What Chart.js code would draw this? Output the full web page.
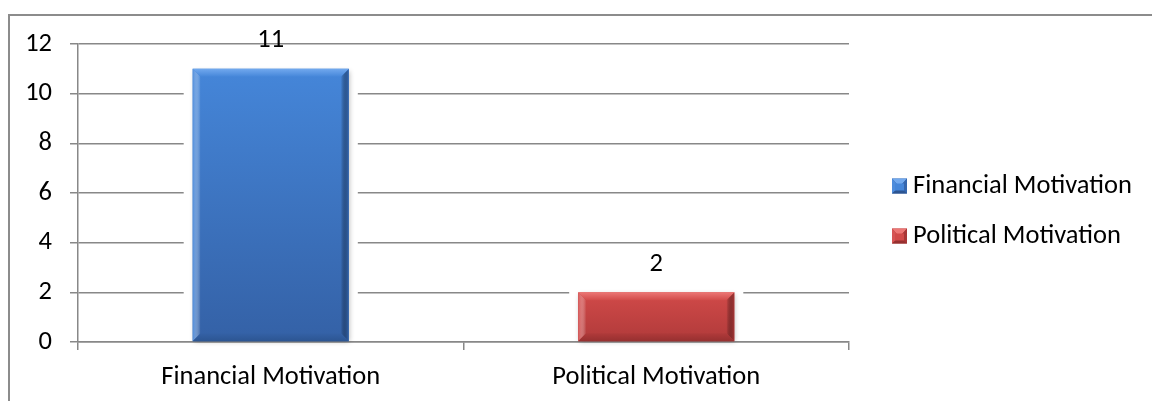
<!DOCTYPE html>
<html>
<head>
<meta charset="utf-8">
<script src="https://cdn.jsdelivr.net/npm/chart.js@4/dist/chart.umd.min.js"></script>
<style>
  html, body { margin: 0; padding: 0; background: #fff; overflow: hidden; }
  #wrap { position: relative; width: 1152px; height: 401px; overflow: hidden; }
  #wrap canvas { position: absolute; left: 0; top: 0; }
  #frame {
    position: absolute; left: 8px; top: 14px; width: 1300px; height: 600px;
    border: 2px solid #8c8c8c; box-sizing: border-box; pointer-events: none;
  }
</style>
</head>
<body>
<div id="wrap">
  <canvas id="chart" width="1152" height="401"></canvas>
  <div id="frame"></div>
</div>
<script>
// Motivation categories and counts
const categories = ['Financial Motivation', 'Political Motivation'];
const counts = [11, 2];
const yTickValues = [0, 2, 4, 6, 8, 10, 12];

// Bar palettes: face top, face bottom, top bevel, bottom bevel, left bevel, right bevel
const palettes = [
  { top: '#4586d9', bottom: '#3461a6', hi: '#72a9ee', lo: '#2c5592', left: '#4d8cdc', right: '#3466ae' },
  { top: '#d14a49', bottom: '#b03a3a', hi: '#ec7775', lo: '#963030', left: '#d65454', right: '#a83636' }
];

const FONT = 'Carlito, Lato, "Liberation Sans", sans-serif';
const FONT_SIZE = 26.5;
const GRID = '#888888';

function faceGradient(ctx, top, base, p) {
  if (!isFinite(top) || !isFinite(base) || top === base) return p.top;
  const g = ctx.createLinearGradient(0, top, 0, base);
  g.addColorStop(0, p.top);
  g.addColorStop(1, p.bottom);
  return g;
}

// Clears gridlines around each bar and adds a soft drop shadow
const barHalo = {
  id: 'barHalo',
  beforeDatasetsDraw(chart) {
    const ctx = chart.ctx;
    const meta = chart.getDatasetMeta(0);
    ctx.save();
    meta.data.forEach((el) => {
      const l = el.x - el.width / 2, r = el.x + el.width / 2;
      if (![l, r, el.y, el.base].every(isFinite)) return;
      ctx.fillStyle = '#ffffff';
      ctx.fillRect(l - 9, el.y - 2, (r - l) + 18, el.base - el.y + 1);
      // shadow only: the rectangle itself is drawn far off-canvas
      const shift = 5000;
      ctx.shadowColor = 'rgba(0,0,0,0.28)';
      ctx.shadowBlur = 5;
      ctx.shadowOffsetX = shift + 1;
      ctx.shadowOffsetY = 2;
      ctx.fillStyle = '#000';
      ctx.fillRect(l - shift, el.y, r - l, el.base - el.y - 1);
    });
    ctx.restore();
  }
};

// Bevel edges on each bar, using the bar element geometry
const barBevel = {
  id: 'barBevel',
  afterDatasetsDraw(chart) {
    const ctx = chart.ctx;
    const meta = chart.getDatasetMeta(0);
    ctx.save();
    meta.data.forEach((el, i) => {
      const p = palettes[i % palettes.length];
      const l = el.x - el.width / 2, r = el.x + el.width / 2;
      const t = el.y, b = el.base;
      if (![l, r, t, b].every(isFinite)) return;
      const d = 8;
      const poly = (pts, fill) => {
        ctx.beginPath();
        ctx.moveTo(pts[0][0], pts[0][1]);
        for (let k = 1; k < pts.length; k++) ctx.lineTo(pts[k][0], pts[k][1]);
        ctx.closePath();
        ctx.fillStyle = fill;
        ctx.fill();
      };
      // left / right
      const lg = ctx.createLinearGradient(l, 0, l + d, 0);
      lg.addColorStop(0, p.left); lg.addColorStop(1, 'rgba(255,255,255,0)');
      poly([[l, t], [l + d, t + d], [l + d, b - d], [l, b]], lg);
      const rg = ctx.createLinearGradient(r, 0, r - d, 0);
      rg.addColorStop(0, p.right); rg.addColorStop(1, 'rgba(0,0,0,0)');
      poly([[r, t], [r - d, t + d], [r - d, b - d], [r, b]], rg);
      // top highlight
      const tg = ctx.createLinearGradient(0, t, 0, t + d);
      tg.addColorStop(0, p.hi); tg.addColorStop(1, p.top);
      poly([[l, t], [r, t], [r - d, t + d], [l + d, t + d]], tg);
      // bottom shade
      const bg = ctx.createLinearGradient(0, b, 0, b - d);
      bg.addColorStop(0, p.lo); bg.addColorStop(1, p.bottom);
      poly([[l, b], [r, b], [r - d, b - d], [l + d, b - d]], bg);
    });
    ctx.restore();
  }
};

// Value labels above the bars
const valueLabels = {
  id: 'valueLabels',
  afterDatasetsDraw(chart) {
    const ctx = chart.ctx;
    const meta = chart.getDatasetMeta(0);
    ctx.save();
    ctx.font = FONT_SIZE + 'px ' + FONT;
    ctx.fillStyle = '#000';
    ctx.textAlign = 'center';
    ctx.textBaseline = 'middle';
    meta.data.forEach((el, i) => {
      ctx.fillText(String(counts[i]), el.x, el.y - 28);
    });
    ctx.restore();
  }
};

// Legend listing each category with its bevelled swatch
const sideLegend = {
  id: 'sideLegend',
  afterDraw(chart) {
    const ctx = chart.ctx;
    const area = chart.chartArea;
    const x0 = area.right + 43;
    const y0 = 186, step = 50, s = 15;
    ctx.save();
    ctx.font = FONT_SIZE + 'px ' + FONT;
    ctx.textBaseline = 'middle';
    ctx.textAlign = 'left';
    categories.forEach((name, i) => {
      const p = palettes[i % palettes.length];
      const cy = y0 + i * step;
      const l = x0, t = cy - s / 2, r = l + s, b = t + s, c = [l + s / 2, t + s / 2];
      const tri = (a, bb, fill) => {
        ctx.beginPath();
        ctx.moveTo(a[0], a[1]); ctx.lineTo(bb[0], bb[1]); ctx.lineTo(c[0], c[1] + 1);
        ctx.closePath(); ctx.fillStyle = fill; ctx.fill();
      };
      ctx.fillStyle = p.bottom;
      ctx.fillRect(l, t, s, s);
      tri([l, t], [r, t], p.hi);
      tri([l, t], [l, b], p.left);
      tri([r, t], [r, b], p.right);
      tri([l, b], [r, b], p.lo);
      ctx.fillStyle = p.top;
      ctx.fillRect(l + 3, t + 5, s - 6, s - 8);
      ctx.fillStyle = '#000';
      ctx.fillText(name, r + 6, cy);
    });
    ctx.restore();
  }
};

new Chart(document.getElementById('chart'), {
  type: 'bar',
  data: {
    labels: categories,
    datasets: [{
      label: 'Count',
      data: counts,
      backgroundColor: (c) => {
        const p = palettes[c.dataIndex % palettes.length];
        const ys = c.chart.scales && c.chart.scales.y;
        if (!ys || c.raw == null) return p.top;
        return faceGradient(c.chart.ctx, ys.getPixelForValue(c.raw), ys.getPixelForValue(0), p);
      },
      borderWidth: 0,
      barPercentage: 0.405,
      categoryPercentage: 1
    }]
  },
  options: {
    responsive: false,
    animation: false,
    events: [],
    layout: { padding: { left: 0, right: 303, top: 44, bottom: 0 } },
    plugins: {
      legend: { display: false },
      tooltip: { enabled: false }
    },
    scales: {
      x: {
        afterFit: (s) => { s.height = 59; },
        grid: { display: true, drawOnChartArea: false, offset: true, tickLength: 8, color: GRID, lineWidth: 1.5 },
        border: { display: true, color: GRID, width: 1.5 },
        ticks: { color: '#000', padding: 11, font: { family: FONT, size: FONT_SIZE }, maxRotation: 0 }
      },
      y: {
        min: 0,
        max: 12,
        afterFit: (s) => { s.width = 78; },
        afterBuildTicks: (s) => { s.ticks = yTickValues.map(v => ({ value: v })); },
        grid: { color: GRID, lineWidth: 1.5, tickLength: 8, drawTicks: true },
        border: { display: true, color: GRID, width: 1.5 },
        ticks: { color: '#000', padding: 18, font: { family: FONT, size: FONT_SIZE } }
      }
    }
  },
  plugins: [barHalo, barBevel, valueLabels, sideLegend]
});
</script>
</body>
</html>
